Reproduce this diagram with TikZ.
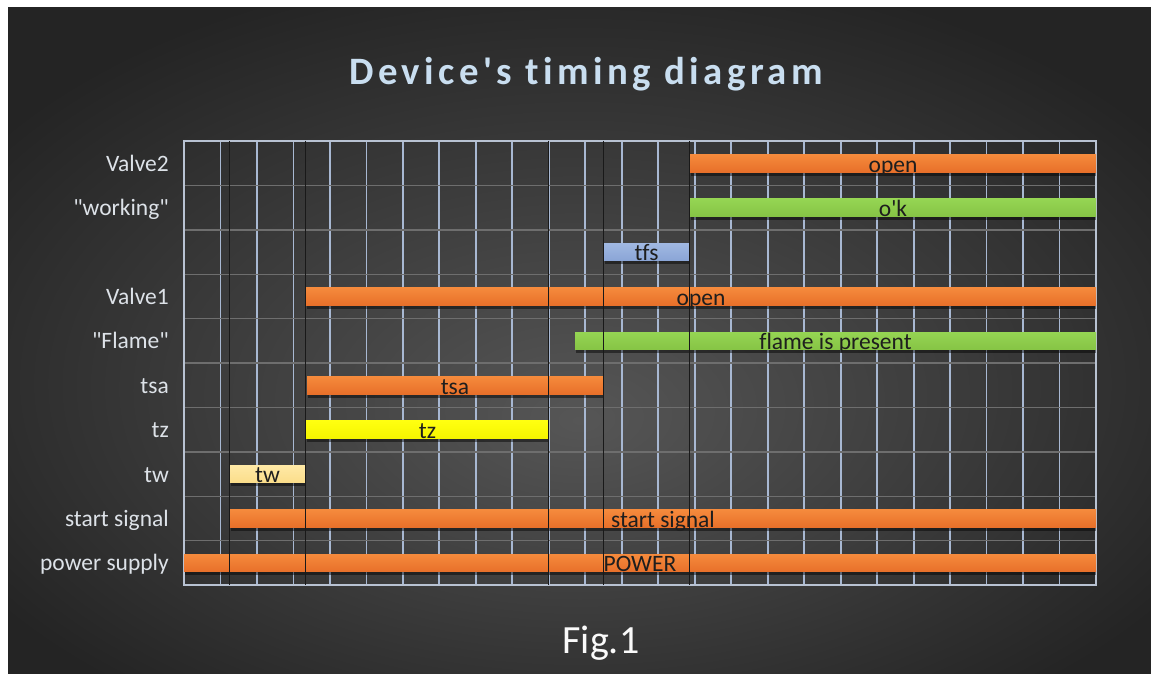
\documentclass[tikz,border=0pt]{standalone}
\usepackage{fontspec}
\setmainfont{Carlito}[Ligatures={TeXOff,CommonOff}]
\newfontfamily\titlefont{Carlito}[Ligatures={TeXOff,CommonOff},LetterSpace=11.5]
\definecolor{bgdark}{HTML}{242424}
\definecolor{bglight}{HTML}{565656}
\definecolor{gridv}{HTML}{A8B8D2}
\definecolor{gridh}{HTML}{6E6E6E}
\definecolor{gridb}{HTML}{B8C2D2}
\definecolor{labc}{HTML}{DDE2E8}
\definecolor{bartxt}{HTML}{1E1E1E}
\definecolor{orT}{HTML}{F58A3C}
\definecolor{orB}{HTML}{E8702A}
\definecolor{grT}{HTML}{95D553}
\definecolor{grB}{HTML}{86C445}
\definecolor{yeT}{HTML}{FFFF10}
\definecolor{yeB}{HTML}{F5F500}
\definecolor{twT}{HTML}{FFE9A6}
\definecolor{twB}{HTML}{FBDD8A}
\definecolor{tfT}{HTML}{A0B8E2}
\definecolor{tfB}{HTML}{8AA5D6}
\definecolor{titlec}{HTML}{C9DEF0}
\pgfdeclareradialshading{bgshade}{\pgfpoint{0bp}{-6bp}}{color(0bp)=(bglight); color(31bp)=(bgdark); color(50bp)=(bgdark)}
\begin{document}
\begin{tikzpicture}[x=1pt,y=-1pt,
  vgrid/.style={draw=gridv, line width=1.8pt},
  hgrid/.style={draw=gridh, line width=1.4pt},
  frame/.style={draw=gridb, line width=2pt},
  marker/.style={draw=black!90, line width=1.4pt},
  rowlabel/.style={text=labc, font=\fontsize{23.5}{28}\selectfont, inner sep=0pt, anchor=base east},
  bartext/.style={text=bartxt, font=\fontsize{23.5}{28}\selectfont, inner sep=0pt, anchor=base},
  barshadow/.style={fill=black, opacity=0.45},
  titletext/.style={font=\titlefont\bfseries\fontsize{38.8}{44}\selectfont, anchor=base, inner sep=0pt},
]
\useasboundingbox (0,0) rectangle (1151,674);
\fill[white] (0,0) rectangle (1151,674);
\fill[bgdark] (8,8) rectangle (1151,674);
\shade[shading=bgshade] (8,8) rectangle (1151,674);

% title
\node[titletext, text=titlec] (title) at (586,85) {Device's timing diagram};

% grid
\foreach \i in {1,...,24} \draw[vgrid] ({184+36.48*\i},141) -- ({184+36.48*\i},585);
\foreach \j in {1,...,9} \draw[hgrid] (184,{141+44.4*\j}) -- (1096,{141+44.4*\j});
\draw[frame] (184,141) rectangle (1096,585);

% bars
\foreach \r/\a/\b/\ct/\cb in {0/690/1096/orT/orB, 1/690/1096/grT/grB, 2/604/689/tfT/tfB,
  3/306/1096/orT/orB, 4/575/1096/grT/grB, 5/307/603/orT/orB, 6/306/549/yeT/yeB,
  7/230/305/twT/twB, 8/230/1096/orT/orB, 9/184/1096/orT/orB} {
  \pgfmathsetmacro\yt{141+44.4*(\r+0.5)-8.7}
  \pgfmathsetmacro\yb{\yt+17.5}
  \fill[barshadow] ({\a+1},{\yt+3.5}) rectangle ({\b},{\yb+3.5});
  \shade[top color=\ct, bottom color=\cb] (\a,\yt) rectangle (\b,\yb);
}

% event markers
\foreach \x in {229.5,305.5,548.5,603.5,689.5} \draw[marker] (\x,141) -- (\x,585);

% bar texts
\foreach \n/\r/\a/\b/\t in {bv2/0/690/1096/open, bwk/1/690/1096/o'k, btfs/2/604/689/tfs,
  bv1/3/306/1096/open, bfl/4/575/1096/flame is present, btsa/5/307/603/tsa, btz/6/306/549/tz,
  btw/7/230/305/tw, bst/8/230/1096/start signal, bpw/9/184/1096/POWER} {
  \pgfmathsetmacro\yb{141+44.4*(\r+0.5)+8.8}
  \node[bartext] (\n) at ({(\a+\b)/2},\yb) {\t};
}

% row labels
\foreach \n/\r/\t in {lv2/0/Valve2, lwk/1/"working", lv1/3/Valve1, lfl/4/"Flame",
  ltsa/5/tsa, ltz/6/tz, ltw/7/tw, lst/8/start signal, lpw/9/power supply} {
  \pgfmathsetmacro\yb{141+44.4*(\r+0.5)+8}
  \node[rowlabel] (\n) at (169,\yb) {\t};
}

% caption
\node[text=white!96!gray, font=\fontsize{40}{46}\selectfont, anchor=base, inner sep=0pt] (fig) at (601,653) {Fig.1};
\end{tikzpicture}
\end{document}
